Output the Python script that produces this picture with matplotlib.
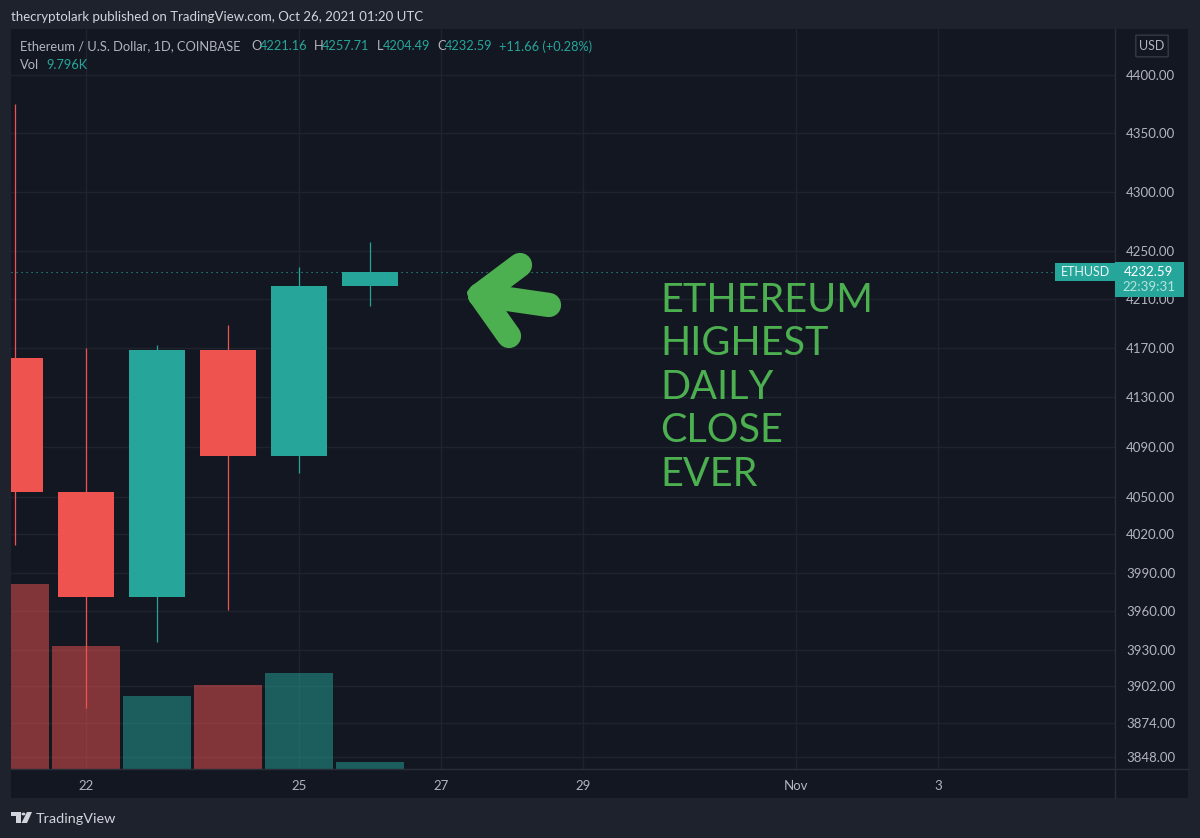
import matplotlib
matplotlib.use("Agg")
import matplotlib.pyplot as plt
from matplotlib.patches import Rectangle, FancyBboxPatch, Polygon, Circle
from matplotlib.lines import Line2D
from matplotlib.ticker import NullLocator

plt.rcParams['font.family'] = ['Lato', 'DejaVu Sans']

# daily candles, october 2021
days = [21, 22, 23, 24, 25, 26]
opens = [4162, 4054, 3971, 4168, 4082, 4221.16]
highs = [4375, 4170, 4172, 4189, 4237, 4257.71]
lows = [4012, 3885, 3936, 3961, 4069, 4204.49]
closes = [4054, 3971, 4168, 4082, 4221, 4232.59]
volumes = [259000, 172000, 102000, 118000, 134000, 9796]

price_ticks = [4400, 4350, 4300, 4250, 4210, 4170, 4130, 4090, 4050, 4020,
               3990, 3960, 3930, 3902, 3874, 3848]
date_ticks = [22, 25, 27, 29, 32, 34]
date_labels = ['22', '25', '27', '29', 'Nov', '3']
last_price = 4232.59
note_lines = ['ETHEREUM', 'HIGHEST', 'DAILY', 'CLOSE', 'EVER']

UP = '#26a69a'
DOWN = '#ef5350'
OUTER = '#1e222d'
PANEL = '#131722'
GRID = '#1f232e'
LABEL = '#b2b5be'
GREEN = '#4caf50'

W, H = 1200, 838
fig = plt.figure(figsize=(W / 100, H / 100), dpi=100, facecolor=OUTER)


def fx(x):
    return x / W


def fy(y):
    return 1 - y / H


def put(x, y, s, color=LABEL, size=9.5, ha='left', **kw):
    return fig.text(fx(x), fy(y), s, color=color, fontsize=size, ha=ha, va='center', **kw)


def box(x0, y0, x1, y1, color, z=1):
    fig.add_artist(Rectangle((fx(x0), fy(y1)), (x1 - x0) / W, (y1 - y0) / H,
                             transform=fig.transFigure, facecolor=color, edgecolor='none', zorder=z))


box(11, 29, 1188, 798, PANEL, z=-5)

pos = [fx(11), fy(769), (1115 - 11) / W, (769 - 29) / H]
xlim = (20.944, 36.49)
ylim = (3839, 4439.5)

# bottom layer: grid and the two scales
axg = fig.add_axes(pos, facecolor=PANEL, zorder=0)
axg.set_yscale('log')
axg.set_xlim(xlim)
axg.set_ylim(ylim)
axg.yaxis.tick_right()
axg.set_yticks(price_ticks)
axg.set_yticklabels(['%.2f' % p for p in price_ticks])
axg.yaxis.set_minor_locator(NullLocator())
axg.set_xticks(date_ticks)
axg.set_xticklabels(date_labels)
axg.tick_params(axis='y', length=0, labelcolor=LABEL, labelsize=9.5, pad=8)
axg.tick_params(axis='x', length=0, labelcolor=LABEL, labelsize=9.5, pad=8)
axg.grid(True, color=GRID, lw=1)
for s in axg.spines.values():
    s.set_visible(False)

# volume pane
axv = fig.add_axes(pos, facecolor='none', zorder=1)
vol_colors = [UP if c >= o else DOWN for o, c in zip(opens, closes)]
axv.bar(days, volumes, width=0.97, color=vol_colors, alpha=0.5)
axv.set_xlim(xlim)
axv.set_ylim(0, 1036000)
axv.axis('off')

# candles
ax = fig.add_axes(pos, facecolor='none', zorder=2)
ax.set_yscale('log')
ax.set_xlim(xlim)
ax.set_ylim(ylim)
for d, o, h, l, c in zip(days, opens, highs, lows, closes):
    col = UP if c >= o else DOWN
    ax.vlines(d, l, h, color=col, lw=0.9, zorder=3)
    ax.bar(d, abs(c - o), bottom=min(o, c), width=0.8, color=col, zorder=4)
ax.axhline(last_price, color=UP, lw=0.8, ls=(0, (1, 3.5)), zorder=2)
ax.axis('off')

# pane separators
fig.add_artist(Line2D([fx(1115), fx(1115)], [fy(29), fy(798)], color='#2a2e39', lw=1, zorder=5))
fig.add_artist(Line2D([fx(11), fx(1188)], [fy(769), fy(769)], color='#2a2e39', lw=1, zorder=5))

# header
put(11, 17, 'thecryptolark published on TradingView.com, Oct 26, 2021 01:20 UTC', color='#d1d4dc', size=9.5)
put(20, 46.5, 'Ethereum / U.S. Dollar, 1D, COINBASE', size=9.3)
for x, s in [(251, 'O'), (314, 'H'), (377, 'L'), (437, 'C')]:
    put(x, 46.5, s, size=9.3)
for x, s in [(260, '4221.16'), (322, '4257.71'), (383, '4204.49'), (445, '4232.59'), (499, '+11.66 (+0.28%)')]:
    put(x, 46.5, s, color=UP, size=9.2)
put(20, 65, 'Vol', size=9.3)
put(46, 65, '9.796K', color=UP, size=9.3)

# usd badge
fig.add_artist(FancyBboxPatch((fx(1137), fy(56)), 30 / W, 20 / H, boxstyle='round,pad=0.001',
                              transform=fig.transFigure, facecolor=PANEL, edgecolor='#363a45', lw=1, zorder=5))
put(1152, 45.5, 'USD', size=9, ha='center', zorder=6)

# last price tags
box(1055, 263, 1115, 281, UP, z=6)
box(1115, 262, 1184, 297, UP, z=6)
put(1085, 272, 'ETHUSD', color='#e8f5f3', size=9, ha='center', zorder=7)
put(1149, 272, '%.2f' % last_price, color='#ffffff', size=9.5, ha='center', zorder=7)
put(1149, 287, '22:39:31', color='#b6e3de', size=9.5, ha='center', zorder=7)

# hand drawn arrow and note
for x1, y1 in [(520, 265), (549, 305), (509, 336)]:
    fig.add_artist(Line2D([fx(480), fx(x1)], [fy(295), fy(y1)], color=GREEN, lw=17.5,
                          solid_capstyle='round', zorder=8))
fig.add_artist(Polygon([(fx(471), fy(293)), (fx(506), fy(269)), (fx(498), fy(323))], transform=fig.transFigure,
                       facecolor=GREEN, edgecolor=GREEN, lw=5.8, joinstyle='round', zorder=8))
for i, line in enumerate(note_lines):
    put(660, 300 + i * 43.5, line, color=GREEN, size=28.5, zorder=8)

# tradingview logo
logo = '#d1d4dc'
fig.add_artist(Polygon([(fx(11), fy(812)), (fx(21), fy(812)), (fx(21), fy(823)), (fx(16), fy(823)),
                        (fx(16), fy(816)), (fx(11), fy(816))], transform=fig.transFigure,
                       facecolor=logo, edgecolor='none', zorder=8))
fig.add_artist(Circle((fx(23.5), fy(814)), 2 / W, transform=fig.transFigure, facecolor=logo, edgecolor='none', zorder=8))
fig.add_artist(Polygon([(fx(27), fy(812)), (fx(32), fy(812)), (fx(27), fy(823)), (fx(21.5), fy(823))],
                       transform=fig.transFigure, facecolor=logo, edgecolor='none', zorder=8))
put(36, 818.5, 'TradingView', color='#d1d4dc', size=10.4)

fig.savefig('out.png', dpi=100, facecolor=OUTER)
